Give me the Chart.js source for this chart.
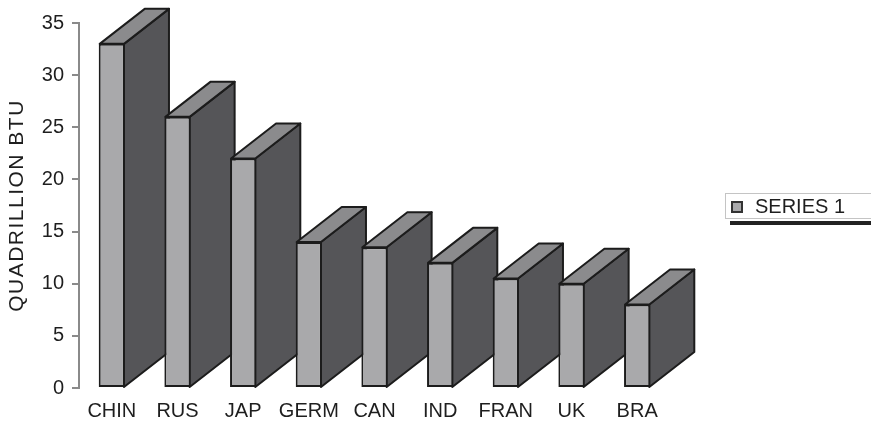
<!DOCTYPE html>
<html><head><meta charset="utf-8">
<script src="https://cdn.jsdelivr.net/npm/chart.js@4/dist/chart.umd.min.js"></script>
<style>html,body{margin:0;padding:0;background:#fff}#wrap{width:871px;height:421px}</style>
</head><body><div id="wrap"><canvas id="c" width="871" height="421"></canvas></div>
<script>
const categories = ['CHIN', 'RUS', 'JAP', 'GERM', 'CAN', 'IND', 'FRAN', 'UK', 'BRA'];
const series1 = [33, 26, 22, 14, 13.5, 12, 10.5, 10, 8];
const seriesName = 'SERIES 1';
const axisTitle = 'QUADRILLION BTU';
const yMin = 0, yMax = 35, yStep = 5;

const FONT = '"Liberation Sans", Arial, Helvetica, sans-serif';
const DX = 45, DY = -35;
const FRONT = '#a9a9ab', SIDE = '#555558', TOP = '#8b8b8d', EDGE = '#1c1c1c';

const bar3d = {
  id: 'bar3d',
  beforeDatasetsDraw(chart) {
    const ctx = chart.ctx;
    const meta = chart.getDatasetMeta(0);
    ctx.save();
    ctx.lineWidth = 2; ctx.strokeStyle = EDGE; ctx.lineJoin = 'round';
    meta.data.forEach(bar => {
      const p = bar.getProps(['x', 'y', 'base', 'width'], true);
      const l = p.x - p.width / 2 + 1, r = p.x + p.width / 2 - 1;
      ctx.beginPath();
      ctx.moveTo(r, p.base); ctx.lineTo(r + DX, p.base + DY);
      ctx.lineTo(r + DX, p.y + DY); ctx.lineTo(r, p.y); ctx.closePath();
      ctx.fillStyle = SIDE; ctx.fill(); ctx.stroke();
      ctx.beginPath();
      ctx.moveTo(l, p.y); ctx.lineTo(l + DX, p.y + DY);
      ctx.lineTo(r + DX, p.y + DY); ctx.lineTo(r, p.y); ctx.closePath();
      ctx.fillStyle = TOP; ctx.fill(); ctx.stroke();
    });
    ctx.restore();
  },
  afterUpdate(chart) {
    const s = chart.scales.y;
    if (s && !s._spaced) {
      const orig = s.drawTitle.bind(s);
      s.drawTitle = function () {
        const ctx = this.ctx; ctx.save(); ctx.letterSpacing = '1.5px'; orig(); ctx.restore();
      };
      s._spaced = true;
    }
  },
  afterDraw(chart) {
    const ctx = chart.ctx;
    const label = chart.data.datasets[0].label;
    ctx.save();
    ctx.fillStyle = '#222';
    ctx.fillRect(730, 221, 145, 4);
    ctx.fillStyle = '#fff';
    ctx.fillRect(725, 193, 150, 25);
    ctx.strokeStyle = '#c4c4c4'; ctx.lineWidth = 1;
    ctx.strokeRect(725.5, 193.5, 150, 25);
    ctx.fillStyle = FRONT; ctx.strokeStyle = '#333'; ctx.lineWidth = 2;
    ctx.fillRect(732, 202, 10, 10); ctx.strokeRect(732, 202, 10, 10);
    ctx.fillStyle = '#1e1e1e'; ctx.font = '20px ' + FONT;
    ctx.textBaseline = 'middle'; ctx.textAlign = 'left';
    ctx.fillText(label, 755, 207);
    ctx.restore();
  }
};

new Chart(document.getElementById('c'), {
  type: 'bar',
  data: {
    labels: categories,
    datasets: [{
      label: seriesName,
      data: series1,
      backgroundColor: FRONT,
      borderColor: EDGE,
      borderWidth: 2,
      borderSkipped: false,
      categoryPercentage: 1,
      barPercentage: 0.4
    }]
  },
  options: {
    responsive: false,
    animation: false,
    events: [],
    layout: { padding: { top: 23, right: 201, left: 0, bottom: 0 } },
    plugins: { legend: { display: false }, tooltip: { enabled: false } },
    scales: {
      x: {
        grid: { display: false },
        border: { display: false },
        ticks: { color: '#1e1e1e', font: { family: FONT, size: 20 }, padding: 3, maxRotation: 0, autoSkip: false },
        afterFit(s) { s.height = 33; }
      },
      y: {
        min: yMin, max: yMax,
        ticks: { stepSize: yStep, color: '#1e1e1e', font: { family: FONT, size: 20 }, padding: 8 },
        grid: { drawOnChartArea: false, drawTicks: true, tickLength: 7, color: '#8a8a8a', lineWidth: 2 },
        border: { display: true, color: '#8a8a8a', width: 2 },
        title: { display: true, text: axisTitle, color: '#1e1e1e', font: { family: FONT, size: 21 }, padding: { top: 5, bottom: 0 } },
        afterFit(s) { s.width = 79; }
      }
    }
  },
  plugins: [bar3d]
});
</script></body></html>
